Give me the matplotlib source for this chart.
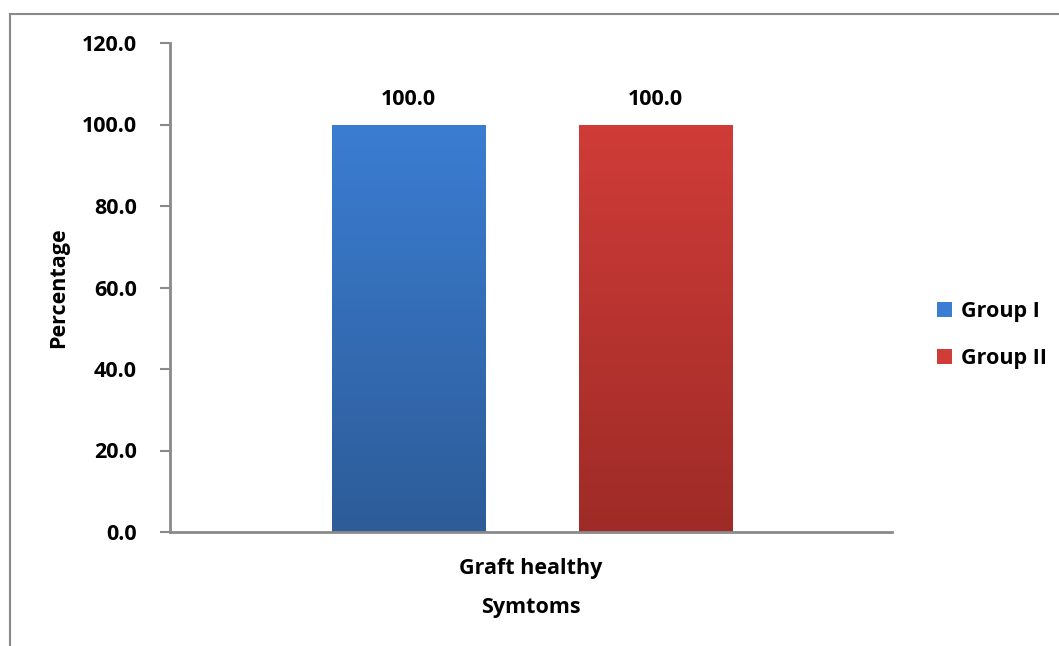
"""Graft healthy percentage by group: Excel-style gradient bars."""
import numpy as np
import matplotlib
matplotlib.use('Agg')
import matplotlib.pyplot as plt
from matplotlib.lines import Line2D
from matplotlib.colors import LinearSegmentedColormap

plt.rcParams['font.family'] = ['Open Sans', 'DejaVu Sans']
plt.rcParams['font.weight'] = 'bold'

category = ["Graft healthy"]
groups = ["Group I", "Group II"]
values = [100.0, 100.0]
yticks = [0, 20, 40, 60, 80, 100, 120]

top_colors = ["#3b7dd2", "#d03c38"]
bottom_colors = ["#2d5c98", "#9e2b27"]

FS = 15.5
W, H = 1059, 646
fig = plt.figure(figsize=(W / 100, H / 100), dpi=100)
ax = fig.add_axes([170 / W, 1 - 532 / H, 722 / W, 489 / H])

# frame around the chart area (only left/top visible in crop)
grey = "#8a8a8a"
fig.add_artist(Line2D([10 / W, 10 / W], [-0.1, 1 - 14 / H], color=grey, lw=1.5))
fig.add_artist(Line2D([10 / W, 1.1], [1 - 14 / H, 1 - 14 / H], color=grey, lw=1.5))

centers = [0.33, 0.672]
width = 0.212
grad = np.linspace(0, 1, 256).reshape(-1, 1)
bars = ax.bar(centers, values, width=width, color="none", edgecolor="none")
for bar, c_top, c_bot, v in zip(bars, top_colors, bottom_colors, values):
    cmap = LinearSegmentedColormap.from_list("g", [c_bot, c_top])
    x0 = bar.get_x()
    im = ax.imshow(grad, cmap=cmap, aspect='auto', origin='lower',
                   extent=[x0, x0 + bar.get_width(), 0, v], zorder=2)
    im.set_clip_path(bar)
    ax.text(bar.get_x() + bar.get_width() / 2, v + 3.6, f"{v:.1f}",
            ha='center', va='bottom', fontsize=FS, fontweight='bold')

ax.set_xlim(0, 1)
ax.set_ylim(0, 120)
ax.set_yticks(yticks)
ax.set_yticklabels([f"{t:.1f}" for t in yticks], fontsize=FS, fontweight='bold')
ax.set_xticks([0.5])
ax.set_xticklabels(category, fontsize=FS, fontweight='bold')
ax.tick_params(axis='x', length=0, pad=19)
ax.tick_params(axis='y', length=7, width=1.5, color=grey, pad=17, direction='out')
ax.set_xlabel("Symtoms", fontsize=FS, fontweight='bold', labelpad=13)
ax.set_ylabel("Percentage", fontsize=FS, fontweight='bold', labelpad=9)

for s in ['top', 'right']:
    ax.spines[s].set_visible(False)
for s in ['left', 'bottom']:
    ax.spines[s].set_color(grey)
    ax.spines[s].set_linewidth(2)

handles = [plt.Rectangle((0, 0), 1, 1, facecolor=c) for c in top_colors]
leg = fig.legend(handles, groups, loc='center left', bbox_to_anchor=(918 / W, 1 - 335 / H),
                 frameon=False, fontsize=FS, handlelength=0.7, handleheight=0.7,
                 labelspacing=1.2, handletextpad=0.4)
for t in leg.get_texts():
    t.set_fontweight('bold')

fig.savefig("out.png", dpi=100)
